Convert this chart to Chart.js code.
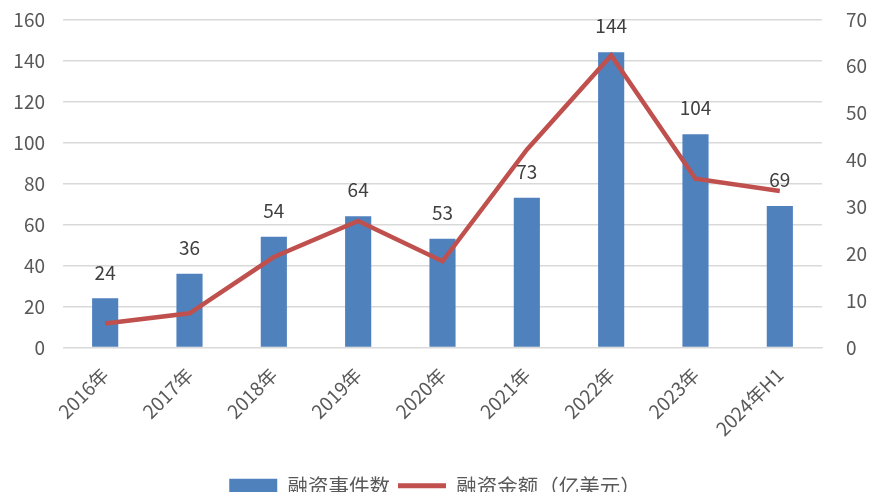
<!DOCTYPE html>
<html>
<head>
<meta charset="utf-8">
<script src="https://cdn.jsdelivr.net/npm/chart.js@4"></script>
<style>
  html, body { margin: 0; padding: 0; background: #fff; overflow: hidden; }
  #wrap { width: 870px; height: 516px; margin-top: -10px; }
</style>
</head>
<body>
<div id="wrap"><canvas id="chart-1"></canvas></div>
<script>
// data
const years = ["2016年", "2017年", "2018年", "2019年", "2020年", "2021年", "2022年", "2023年", "2024年H1"];
const dealCount = [24, 36, 54, 64, 53, 73, 144, 104, 69];
const dealAmount = [5.1, 7.3, 19.3, 27, 18.4, 42.2, 62.3, 36, 33.4];
const leftTicks = [0, 20, 40, 60, 80, 100, 120, 140, 160];
const rightTicks = [0, 10, 20, 30, 40, 50, 60, 70];

const numFont = "'Liberation Sans Narrow', 'Noto Sans CJK SC', sans-serif";
const cjkFont = "'Noto Sans CJK SC', sans-serif";

// numbers over the bars
const barLabels = {
  id: 'barLabels',
  afterDatasetsDraw(chart) {
    const ctx = chart.ctx;
    const meta = chart.getDatasetMeta(1); // the bar dataset
    ctx.save();
    ctx.font = "19px " + numFont;
    ctx.fillStyle = "#404040";
    ctx.textAlign = "center";
    ctx.textBaseline = "middle";
    meta.data.forEach((bar, i) => {
      ctx.fillText(dealCount[i], bar.x, bar.y - 26);
    });
    ctx.restore();
  }
};

if (document.getElementById("chart-1")) {
  new Chart(document.getElementById("chart-1"), {
    type: 'bar',
    data: {
      labels: years,
      datasets: [
        {
          type: 'line',
          label: "融资金额（亿美元）",
          data: dealAmount,
          yAxisID: 'y1',
          borderColor: "#C0504D",
          backgroundColor: "#C0504D",
          borderWidth: 4.5,
          pointRadius: 0,
          tension: 0,
          order: 0
        },
        {
          label: "融资事件数",
          data: dealCount,
          yAxisID: 'y',
          backgroundColor: "#4F81BD",
          categoryPercentage: 1,
          barPercentage: 0.31,
          order: 1
        }
      ]
    },
    options: {
      responsive: true,
      maintainAspectRatio: false,
      animation: false,
      layout: { padding: { top: 0, bottom: 0 } },
      plugins: {
        tooltip: { enabled: false },
        legend: {
          position: 'bottom',
          reverse: true,
          labels: {
            usePointStyle: true,
            pointStyleWidth: 48,
            boxHeight: 14,
            padding: 8,
            color: "#595959",
            font: { family: cjkFont, size: 20.5 },
            generateLabels(chart) {
              const items = Chart.defaults.plugins.legend.labels.generateLabels(chart);
              items.forEach(it => {
                if (it.datasetIndex === 0) {
                  it.pointStyle = 'line';
                  it.lineWidth = 5;
                  it.strokeStyle = "#C0504D";
                } else {
                  it.pointStyle = 'rect';
                  it.lineWidth = 0;
                }
              });
              return items;
            }
          }
        }
      },
      scales: {
        x: {
          grid: { display: false },
          border: { display: true, color: "#d9d9d9", width: 1 },
          ticks: {
            color: "#595959",
            maxRotation: 45,
            minRotation: 45,
            padding: 8,
            font: { family: cjkFont, size: 19 }
          },
          afterFit(s) { s.height = 120; }
        },
        y: {
          position: 'left',
          min: 0,
          max: 160,
          afterBuildTicks(s) { s.ticks = leftTicks.map(v => ({ value: v })); },
          grid: { color: "#d9d9d9", lineWidth: 1.5, drawTicks: false },
          border: { display: false },
          ticks: { color: "#595959", padding: 18, font: { family: numFont, size: 19 } },
          afterFit(s) { s.width = 63; }
        },
        y1: {
          position: 'right',
          min: 0,
          max: 70,
          afterBuildTicks(s) { s.ticks = rightTicks.map(v => ({ value: v })); },
          grid: { display: false },
          border: { display: false },
          ticks: { color: "#595959", padding: 16, font: { family: numFont, size: 19 } },
          afterFit(s) { s.width = 48; }
        }
      }
    },
    plugins: [barLabels]
  });
}
</script>
</body>
</html>
